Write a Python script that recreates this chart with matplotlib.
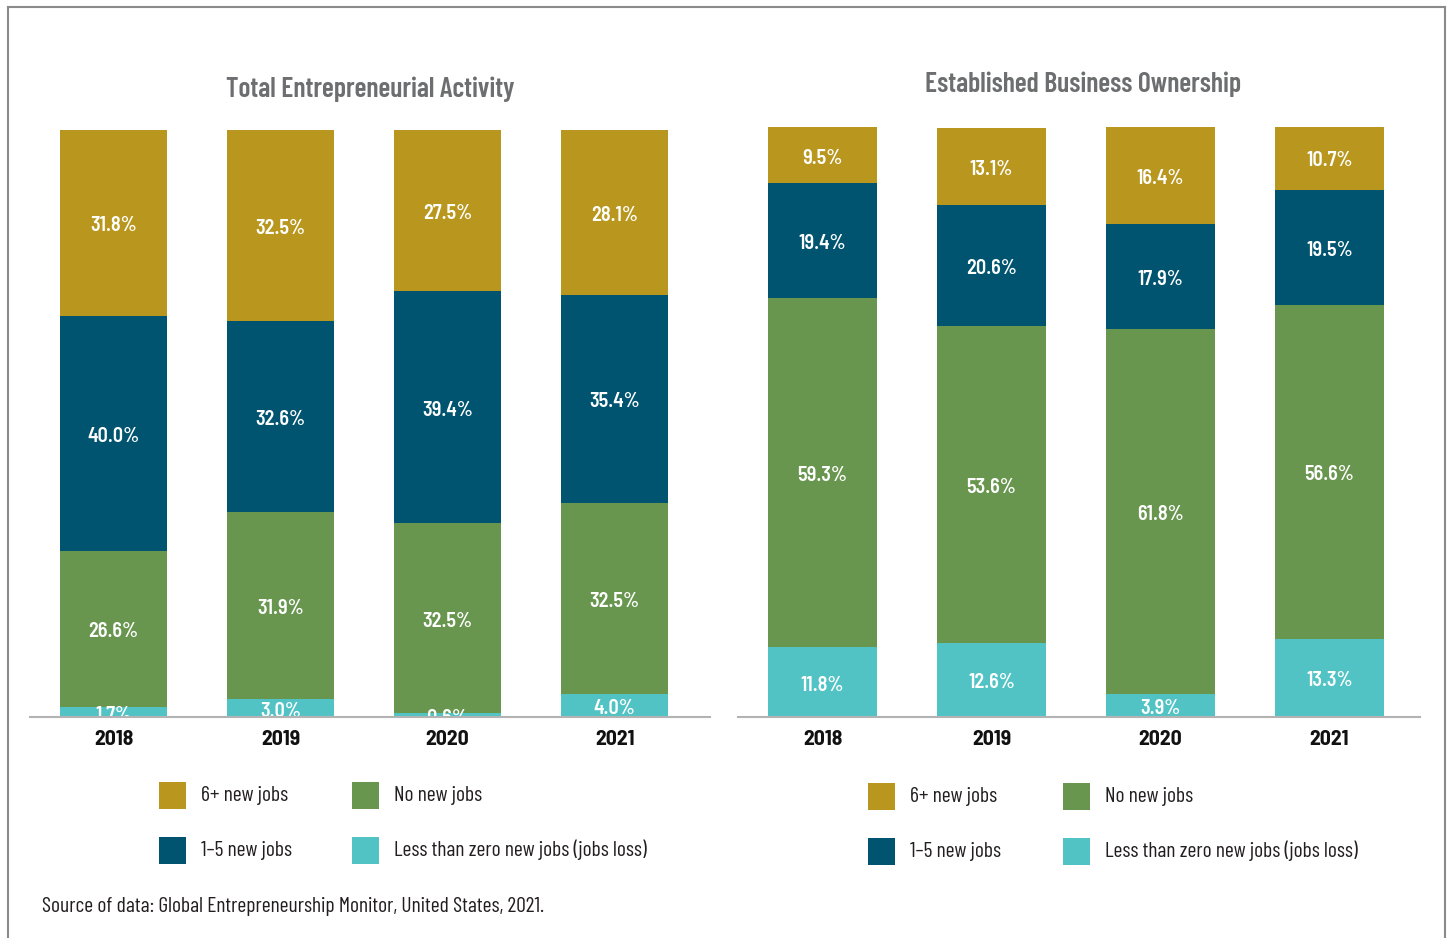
import matplotlib
matplotlib.use('Agg')
import matplotlib.pyplot as plt
import numpy as np
from matplotlib.patches import Rectangle
from matplotlib.lines import Line2D
from matplotlib.transforms import offset_copy

# fuente condensada (con respaldo en DejaVu condensada)
plt.rcParams['font.family'] = ['Barlow Condensed', 'DejaVu Sans']
plt.rcParams['font.stretch'] = 'condensed'
negrita = ['Barlow Semi Condensed', 'DejaVu Sans']

# Datos: porcentaje de empresas según creación de empleo
years = ['2018', '2019', '2020', '2021']
series = ['Less than zero new jobs (jobs loss)', 'No new jobs', '1\u20135 new jobs', '6+ new jobs']
colors = ['#52c3c5', '#68964e', '#005470', '#b9971e']

tea_loss = [1.7, 3.0, 0.6, 4.0]
tea_none = [26.6, 31.9, 32.5, 32.5]
tea_1_5 = [40.0, 32.6, 39.4, 35.4]
tea_6plus = [31.8, 32.5, 27.5, 28.1]

ebo_loss = [11.8, 12.6, 3.9, 13.3]
ebo_none = [59.3, 53.6, 61.8, 56.6]
ebo_1_5 = [19.4, 20.6, 17.9, 19.5]
ebo_6plus = [9.5, 13.1, 16.4, 10.7]

W, H = 1450, 938
fig = plt.figure(figsize=(W / 100, H / 100), dpi=100)


def px(x0, y0, x1, y1):
    # caja en pixeles -> coordenadas de figura
    return [x0 / W, 1 - y1 / H, (x1 - x0) / W, (y1 - y0) / H]


def barras(ax, datos, ancho, x_der):
    x = np.arange(len(years))
    base = np.zeros(len(years))
    trans = offset_copy(ax.transData, fig=fig, y=-3, units='dots')
    for vals, c in zip(datos, colors):
        vals = np.array(vals)
        ax.bar(x, vals, ancho, bottom=base, color=c, linewidth=0, zorder=2)
        for xi, b, v in zip(x, base, vals):
            ax.text(xi, b + v / 2, f'{v:.1f}%', ha='center', va='center', color='white',
                    fontsize=14.5, fontweight='semibold', family=negrita,
                    transform=trans, clip_on=True, zorder=3)
        base += vals
    ax.set_xlim(-0.5, x_der)
    ax.set_ylim(0, 100)
    ax.set_xticks(x)
    ax.set_xticklabels(years, fontsize=15.5, fontweight='bold', color='#111111', family=negrita)
    ax.tick_params(axis='x', length=0, pad=9)
    ax.set_yticks([])
    for s in ['top', 'left', 'right']:
        ax.spines[s].set_visible(False)
    ax.spines['bottom'].set_color('#b3b3b3')
    ax.spines['bottom'].set_linewidth(1.5)
    ax.spines['bottom'].set_zorder(4)


ax1 = fig.add_axes(px(30, 130, 710, 717))
barras(ax1, [tea_loss, tea_none, tea_1_5, tea_6plus], 107 / 167, (710 - 113.5) / 167)

ax2 = fig.add_axes(px(738, 127, 1420, 717))
barras(ax2, [ebo_loss, ebo_none, ebo_1_5, ebo_6plus], 109 / 169, (1420 - 822.5) / 169)

# titulos
fig.text(370 / W, 1 - 89 / H, 'Total Entrepreneurial Activity', ha='center', va='center',
         fontsize=20, fontweight='semibold', color='#6d6e70')
fig.text(1083 / W, 1 - 84 / H, 'Established Business Ownership', ha='center', va='center',
         fontsize=20, fontweight='semibold', color='#6d6e70')

# leyendas armadas a mano (cuadro + texto)
orden = [(3, 0, 0), (1, 1, 0), (2, 0, 1), (0, 1, 1)]
for x_cols, y_filas in [((159, 352), (795, 850)), ((868, 1063), (796, 851))]:
    for i, col, fila in orden:
        x0 = x_cols[col]
        yc = y_filas[fila]
        fig.add_artist(Rectangle((x0 / W, 1 - (yc + 13.5) / H), 27 / W, 27 / H,
                                 transform=fig.transFigure, color=colors[i], linewidth=0))
        fig.text((x0 + 42) / W, 1 - yc / H, series[i], ha='left', va='center',
                 fontsize=15.5, color='#231f20')

fig.text(42 / W, 1 - 906 / H, 'Source of data: Global Entrepreneurship Monitor, United States, 2021.',
         ha='left', va='center', fontsize=15.5, color='#231f20')

# marco gris exterior
for xs, ys in [([7.5, 7.5], [H + 5, 7.5]), ([7.5, 1445], [7.5, 7.5]), ([1445, 1445], [7.5, H + 5])]:
    fig.add_artist(Line2D([x / W for x in xs], [1 - y / H for y in ys], transform=fig.transFigure,
                          color='#8a8a8a', linewidth=1.5))

fig.savefig('out.png', dpi=100)
